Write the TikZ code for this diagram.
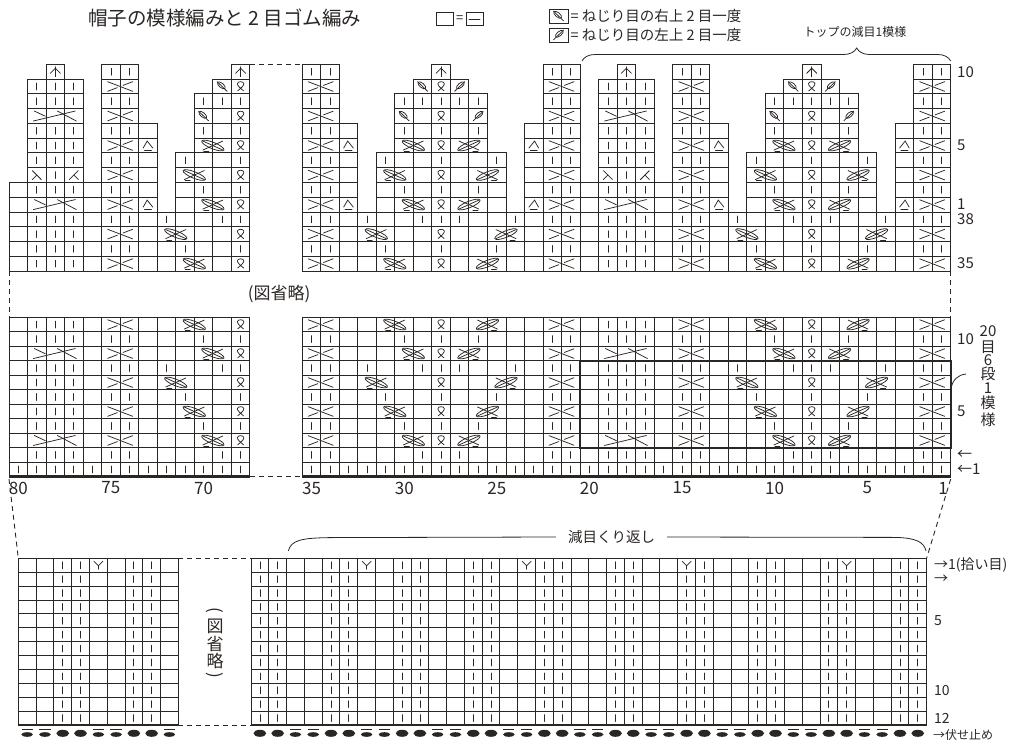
\documentclass[tikz,border=0pt]{standalone}
\usepackage{fontspec}
\setmainfont{Noto Sans CJK JP}
\usetikzlibrary{calc, positioning}
\usetikzlibrary{decorations.pathreplacing}

\definecolor{ink}{RGB}{42,38,36}

\def\cw{18.53}
\def\rh{14.76}
\def\rhm{14.49}
\def\cwb{17.78}
\def\rhb{13.89}
\def\topbase{271}
\def\midbase{476.7}
\def\ribtop{558.3}

% rows of one 20 stitch repeat: column/width/symbol
\def\rowI{20/1/k,19/1/k,18/1/k,17/1/k,16/1/k,15/1/k,14/1/k,13/1/k,12/1/k,11/1/k,10/1/k,9/1/k,8/1/k,7/1/k,6/1/k,5/1/k,4/1/k,3/1/k,2/1/k,1/1/k}
\def\rowII{19/1/k,18/1/k,17/1/k,15/1/k,14/1/k,9/1/k,8/1/k,7/1/k,2/1/k,1/1/k}
\def\rowA{19/3/bigx,15/2/cab,10/2/twl,8/1/tw,7/2/twr,2/2/cab}
\def\rowB{19/1/k,18/1/k,17/1/k,15/1/k,14/1/k,10/1/k,8/1/k,6/1/k,2/1/k,1/1/k}
\def\rowC{19/1/k,18/1/k,17/1/k,15/2/cab,11/2/twl,8/1/tw,6/2/twr,2/2/cab}
\def\rowD{19/1/k,18/1/k,17/1/k,15/1/k,14/1/k,11/1/k,8/1/k,5/1/k,2/1/k,1/1/k}
\def\rowE{19/1/k,18/1/k,17/1/k,15/2/cab,12/2/twl,8/1/tw,5/2/twr,2/2/cab}
\def\rowF{19/1/k,18/1/k,17/1/k,15/1/k,14/1/k,12/1/k,9/1/k,8/1/k,7/1/k,4/1/k,2/1/k,1/1/k}
% crown rows
\def\crI{19/3/bigx,15/2/cab,13/1/pdl,10/2/twl,8/1/tw,7/2/twr,3/1/pdr,2/2/cab}
\def\crIII{19/1/ssk,18/1/k,17/1/ktog,15/2/cab,11/2/twl,8/1/tw,6/2/twr,2/2/cab}
\def\crV{19/1/k,18/1/k,17/1/k,15/2/cab,13/1/pdl,10/2/twl,8/1/tw,7/2/twr,3/1/pdr,2/2/cab}
\def\crVII{19/3/bigx,15/2/cab,10/1/tdl,8/1/tw,6/1/tdr,2/2/cab}
\def\crVIII{19/1/k,18/1/k,17/1/k,15/1/k,14/1/k,10/1/k,9/1/k,8/1/k,7/1/k,6/1/k,2/1/k,1/1/k}
\def\crIX{19/1/k,18/1/k,17/1/k,15/2/cab,9/1/tdl,8/1/tw,7/1/tdr,2/2/cab}
\def\crX{18/1/cdd,15/1/k,14/1/k,8/1/cdd,2/1/k,1/1/k}

% one row of symbols in one repeat: origin, y, first col, last col, list
\newcommand\putrow[5]{
    \edef\rowlist{#5}
    \foreach \cn/\wn/\symb in \rowlist{
        \pgfmathtruncatemacro\ok{(\cn<=#4)&&(\cn-\wn+1>=#3)}
        \ifnum\ok=1
            \pgfmathsetmacro\xx{#1-\cw*(\cn-\wn/2)}
            \edef\putnext{\noexpand\pic at (\xx,#2) {\symb};}\putnext
        \fi
    }
}

% ribbing: left x, last column, phase, skip test for row 1
\newcommand\ribpart[4]{
    \foreach \kk in {0,...,#2}{
        \pgfmathsetmacro\xc{#1+\cwb*(\kk+0.5)}
        \pgfmathtruncatemacro\kn{mod(\kk+#3,4)<2}
        \ifnum\kn=1
            \pgfmathtruncatemacro\skipy{#4}
            \ifnum\skipy=0 \pic at (\xc,{\ribtop+\rhb*0.5}) {k};\fi
            \foreach \rr in {2,...,12}
                \pic at (\xc,{\ribtop+\rhb*(\rr-0.5)}) {k};
            \pic at (\xc,733.3) {bok};
        \else
            \pic at (\xc,733.3) {bop};
        \fi
    }
}

\tikzset{
    cellline/.style = {draw=ink, line width=0.9pt},
    symline/.style = {draw=ink, line width=0.75pt, line cap=round},
    boldline/.style = {draw=ink, line width=2.6pt},
    gapline/.style = {draw=ink, line width=0.9pt, dash pattern=on 5pt off 4pt},
    keybox/.style = {draw=ink, line width=0.9pt, minimum width=17pt, minimum height=13pt, inner sep=0pt},
    lab/.style = {inner sep=0pt, text=ink},
    rowno/.style = {lab, anchor=west, font=\fontsize{15}{15}\selectfont},
    colno/.style = {lab, font=\fontsize{17}{17}\selectfont},
    pics/k/.style = {code = {\draw[symline] (0,-3.4) -- (0,3.4);}},
    pics/tw/.style = {code = {
        \draw[symline] (-3,4.4) .. controls (0.5,1.6) and (3.6,-1.2) .. (3.2,-3)
            .. controls (2.8,-5.4) and (-2.8,-5.4) .. (-3.2,-3)
            .. controls (-3.6,-1.2) and (-0.5,1.6) .. (3,4.4);
    }},
    pics/cab/.style = {code = {
        \draw[symline] (-12.5,-4.8) -- (12.5,4.8);
        \draw[symline] (-12.5,4.8) -- (-2.8,1.1);
        \draw[symline] (2.8,-1.1) -- (12.5,-4.8);
    }},
    pics/bigx/.style = {code = {
        \draw[symline] (-22,5) -- (20,-5);
        \draw[symline] (-21,-5) -- (-10,0.2);
        \draw[symline] (2,-5) -- (21,5);
    }},
    pics/twl/.style = {code = {
        \draw[symline] (-10,-4.5) -- (10,4.5);
        \draw[symline] (-10,4.5) -- (10,-4.5);
        \draw[symline, rotate=-22] (0,0) ellipse [x radius=12, y radius=3.2];
        \draw[symline] (-9,5.8) -- (-4,5.8);
    }},
    pics/twr/.style = {code = {
        \draw[symline] (10,-4.5) -- (-10,4.5);
        \draw[symline] (10,4.5) -- (-10,-4.5);
        \draw[symline, rotate=22] (0,0) ellipse [x radius=12, y radius=3.2];
        \draw[symline] (9,5.8) -- (4,5.8);
    }},
    pics/tdl/.style = {code = {
        \draw[symline] (-5,-4.8) -- (5,4.8);
        \draw[symline, shift={(-0.8,-1.2)}, rotate=-40] (0,0) ellipse [x radius=4.8, y radius=2.2];
    }},
    pics/tdr/.style = {code = {
        \draw[symline] (5,-4.8) -- (-5,4.8);
        \draw[symline, shift={(0.8,-1.2)}, rotate=40] (0,0) ellipse [x radius=4.8, y radius=2.2];
    }},
    pics/pdl/.style = {code = {
        \draw[symline] (-4.8,2.5) -- (-0.8,-4.5) -- (4.8,2.5);
        \draw[symline] (-3.5,4.8) -- (3.5,4.8);
    }},
    pics/pdr/.style = {code = {
        \draw[symline] (4.8,2.5) -- (0.8,-4.5) -- (-4.8,2.5);
        \draw[symline] (3.5,4.8) -- (-3.5,4.8);
    }},
    pics/ssk/.style = {code = {
        \draw[symline] (-4.5,-4.5) -- (4.5,4.5);
        \draw[symline] (0,0) -- (-4.5,4.5);
    }},
    pics/ktog/.style = {code = {
        \draw[symline] (4.5,-4.5) -- (-4.5,4.5);
        \draw[symline] (0,0) -- (4.5,4.5);
    }},
    pics/cdd/.style = {code = {
        \draw[symline] (0,-5) -- (0,5);
        \draw[symline] (-5,1.5) -- (0,-3.5) -- (5,1.5);
    }},
    pics/yinc/.style = {code = {
        \draw[symline] (-4.5,-4) -- (0,0.5) -- (4.5,-4);
        \draw[symline] (0,0.5) -- (0,4);
    }},
    pics/bok/.style = {code = {\fill[ink] (0,0) ellipse [x radius=6.4, y radius=3.5];}},
    pics/bop/.style = {code = {
        \draw[ink, line width=1pt] (-5.6,-4) -- (5.6,-4);
        \fill[ink] (0,1.2) ellipse [x radius=5.8, y radius=2.3];
    }}
}

\begin{document}
\begin{tikzpicture}[x=1pt, y=-1pt]
    \useasboundingbox (0,0) rectangle (1018,742);

    % title and keys
    \node[lab, anchor=west, font=\fontsize{19.5}{20}\selectfont] (title) at (88,18) {帽子の模様編みと 2 目ゴム編み};
    \node[keybox] (purlbox) at (445,19) {};
    \node[lab, right=2pt of purlbox, font=\fontsize{13}{13}\selectfont] (purleq) {=};
    \node[keybox, right=2pt of purleq] (dashbox) {};
    \draw[symline] ([xshift=3.5pt]dashbox.west) -- ([xshift=-3.5pt]dashbox.east);
    \node[keybox, minimum width=19pt, minimum height=14pt] (keyboxA) at (558.5,16) {};
    \pic at (keyboxA) {tdl};
    \node[lab, right=2pt of keyboxA, font=\fontsize{14.5}{15}\selectfont] (keyA) {= ねじり目の右上 2 目一度};
    \node[keybox, minimum width=19pt, minimum height=14pt] (keyboxB) at (558.5,35) {};
    \pic at (keyboxB) {tdr};
    \node[lab, right=2pt of keyboxB, font=\fontsize{14.5}{15}\selectfont] (keyB) {= ねじり目の左上 2 目一度};
    \node[lab, font=\fontsize{12}{12}\selectfont] (topnote) at (855,32) {トップの減目1模様};
    \draw[ink, line width=0.8pt, decorate, decoration={brace, amplitude=13pt, aspect=0.745}] (582,61) -- (950.7,61);

    % crown and top rows: cells
    \foreach \ox/\cmin/\cmax in {950.7/1/20, 580.1/1/15, 379.6/8/20}{
        \foreach \cn/\hc in {1/13,2/13,3/9,4/3,5/7,6/11,7/12,8/13,9/12,10/11,11/7,12/3,13/9,14/13,15/13,16/5,17/12,18/13,19/12,20/5}{
            \pgfmathtruncatemacro\ok{(\cn>=\cmin)&&(\cn<=\cmax)}
            \ifnum\ok=1
                \foreach \tr in {0,...,\hc}
                    \draw[cellline] ({\ox-\cw*\cn},{\topbase-\rh*(\tr+1)}) rectangle ++(\cw,\rh);
            \fi
        }
    }
    % crown and top rows: symbols
    \foreach \ox/\cmin/\cmax in {950.7/1/20, 580.1/1/15, 379.6/8/20}{
        \foreach \tr/\rl in {0/\rowC,1/\rowD,2/\rowE,3/\rowF,4/\crI,5/\rowB,6/\crIII,7/\rowD,8/\crV,9/\rowB,10/\crVII,11/\crVIII,12/\crIX,13/\crX}{
            \pgfmathsetmacro\yy{\topbase-\rh*(\tr+0.5)}
            \putrow{\ox}{\yy}{\cmin}{\cmax}{\rl}
        }
    }

    % body rows 1 to 11
    \foreach \xl/\ncol in {9/13, 302.15/35}{
        \foreach \i in {0,...,\ncol}
            \draw[cellline] ({\xl+\cw*\i},{\midbase-11*\rhm}) -- ({\xl+\cw*\i},\midbase);
        \foreach \j in {0,...,10}
            \draw[cellline] (\xl,{\midbase-\rhm*(11-\j)}) -- ({\xl+\cw*\ncol},{\midbase-\rhm*(11-\j)});
        \draw[boldline] (\xl,\midbase) -- ({\xl+\cw*\ncol},\midbase);
    }
    \foreach \ox/\cmin/\cmax in {950.7/1/20, 580.1/1/15, 379.6/8/20}{
        \foreach \rr/\rl in {1/\rowI,2/\rowII,3/\rowA,4/\rowB,5/\rowC,6/\rowD,7/\rowE,8/\rowF,9/\rowA,10/\rowB,11/\rowC}{
            \pgfmathsetmacro\yy{\midbase-\rhm*(\rr-0.5)}
            \putrow{\ox}{\yy}{\cmin}{\cmax}{\rl}
        }
    }
    \draw[ink, line width=1.8pt] (580.1,{\midbase-8*\rhm}) rectangle (950.7,{\midbase-2*\rhm});
    \coordinate (repedge) at (950.7,389);
    \coordinate (repnote) at (966,374);
    \draw[ink, line width=0.8pt] (repedge) .. controls (953,379) and (958,375) .. (repnote);
    \foreach \ch/\yv [count=\i] in {20/331, 目/347, 6/360, 段/374, 1/388, 模/403, 様/420}
        \node[lab, font=\fontsize{15}{15}\selectfont] (rep-\i) at (988,\yv) {\ch};

    % ribbing
    \foreach \xl/\ncol in {18.3/9, 251/38}{
        \foreach \i in {0,...,\ncol}
            \draw[cellline] ({\xl+\cwb*\i},\ribtop) -- ++(0,{12*\rhb});
        \foreach \j in {0,...,11}
            \draw[cellline] (\xl,{\ribtop+\rhb*\j}) -- ++({\cwb*\ncol},0);
        \draw[boldline] (\xl,{\ribtop+12*\rhb}) -- ++({\cwb*\ncol},0);
    }
    \ribpart{18.3}{8}{2}{0}
    \ribpart{251}{37}{0}{(\kk==24)||(\kk==33)}
    \foreach \xl/\kk in {18.3/4, 251/6, 251/15, 251/24, 251/33}
        \pic at ({\xl+\cwb*(\kk+0.5)},{\ribtop+\rhb*0.5}) {yinc};

    % gaps
    \coordinate (crownL) at (249.9,{\topbase-14*\rh});
    \coordinate (crownR) at (302.15,{\topbase-14*\rh});
    \coordinate (topBL) at (9,\topbase);
    \coordinate (topBR) at (950.7,\topbase);
    \coordinate (midTL) at (9,{\midbase-11*\rhm});
    \coordinate (midTR) at (950.7,{\midbase-11*\rhm});
    \coordinate (midgapL) at (249.9,\midbase);
    \coordinate (midgapR) at (302.15,\midbase);
    \coordinate (midBL) at (9,479);
    \coordinate (midBR) at (950.7,479);
    \coordinate (ribTL) at (18.3,\ribtop);
    \coordinate (ribTR) at (926.6,\ribtop);
    \coordinate (ribgapTL) at (178.3,\ribtop);
    \coordinate (ribgapTR) at (251,\ribtop);
    \coordinate (ribgapBL) at (178.3,{\ribtop+12*\rhb});
    \coordinate (ribgapBR) at (251,{\ribtop+12*\rhb});
    \draw[gapline] (crownL) -- (crownR);
    \draw[gapline] (topBL) -- (midTL);
    \draw[gapline] (topBR) -- (midTR);
    \draw[gapline] (midgapL) -- (midgapR);
    \draw[gapline] (midBL) -- (ribTL);
    \draw[gapline] (midBR) -- (ribTR);
    \draw[gapline] (ribgapTL) -- (ribgapTR);
    \draw[gapline] (ribgapBL) -- (ribgapBR);

    % row and column numbers
    \foreach \lab/\tr in {10/13, 5/8, 1/4, 38/3, 35/0}
        \node[rowno] (toprow-\lab) at (957,{\topbase-\rh*(\tr+0.5)}) {\lab};
    \foreach \lab/\rr [count=\i] in {10/10, 5/5, ←/2, ←1/1}
        \node[rowno] (midrow-\i) at (957,{\midbase-\rhm*(\rr-0.5)}) {\lab};
    \foreach \lab/\xv in {80/18.3, 75/110.9, 70/203.6, 35/311.6, 30/404.3, 25/496.8, 20/589.4, 15/682.0, 10/774.6, 5/867.3, 1/943}
        \node[colno] (colno-\lab) at (\xv,488) {\lab};
    \node[lab, font=\fontsize{17}{17}\selectfont] (omitA) at (279,294) {(図省略)};
    \node[lab, rotate=-90, font=\fontsize{17}{17}\selectfont] (omitB-1) at (215,610) {(};
    \foreach \ch/\yv [count=\i from 2] in {図/626, 省/644, 略/661}
        \node[lab, font=\fontsize{17}{17}\selectfont] (omitB-\i) at (215,\yv) {\ch};
    \node[lab, rotate=-90, font=\fontsize{17}{17}\selectfont] (omitB-5) at (215,675) {)};

    % ribbing notes
    \node[lab, font=\fontsize{14.5}{15}\selectfont] (repeatnote) at (611.5,537.5) {減目くり返し};
    \coordinate (bandL) at (288.3,551);
    \coordinate (bandR) at (926,551);
    \draw[ink, line width=0.8pt] (bandL) .. controls (291,540) and (302,538) .. (330,537.6) -- ([xshift=-12pt]repeatnote.west |- 0,537);
    \draw[ink, line width=0.8pt] ([xshift=12pt]repeatnote.east |- 0,537) -- (896,537.4) .. controls (916,538) and (924,542) .. (bandR);
    \foreach \lab/\rr [count=\i] in {→1(拾い目)/1, →/2, 5/5, 10/10, 12/12}
        \node[rowno, font=\fontsize{14}{14}\selectfont] (ribrow-\i) at (934,{\ribtop+\rhb*(\rr-0.5)}) {\lab};
    \node[rowno, font=\fontsize{12}{12}\selectfont] (bindoff) at (933,735) {→伏せ止め};
\end{tikzpicture}
\end{document}
